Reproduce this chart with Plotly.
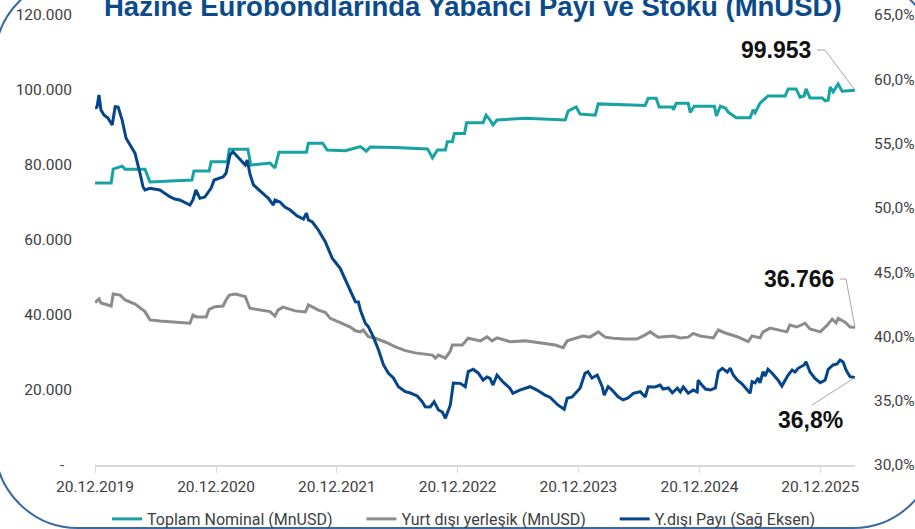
import plotly.graph_objects as go

# ---------------- data ----------------
total_dates = ["2019-12-20","2020-02-07","2020-02-13","2020-03-11","2020-03-20","2020-05-19","2020-06-03","2020-10-08","2020-10-14","2020-11-29","2020-12-05","2021-01-23","2021-01-29","2021-03-26","2021-04-04","2021-06-01","2021-06-16","2021-06-28","2021-09-19","2021-09-25","2021-11-07","2021-11-21","2022-01-15","2022-03-01","2022-03-19","2022-03-31","2022-06-15","2022-09-20","2022-10-05","2022-10-20","2022-11-13","2022-11-19","2022-12-04","2022-12-10","2023-01-10","2023-01-16","2023-03-07","2023-03-16","2023-03-28","2023-04-06","2023-04-18","2023-07-12","2023-11-10","2023-11-19","2023-12-13","2023-12-25","2024-02-09","2024-02-18","2024-07-09","2024-07-18","2024-08-11","2024-08-20","2024-09-29","2024-10-02","2024-10-11","2024-11-16","2024-11-22","2024-12-04","2025-02-03","2025-02-09","2025-02-21","2025-03-08","2025-03-17","2025-04-01","2025-04-10","2025-05-22","2025-05-31","2025-06-06","2025-06-21","2025-07-15","2025-09-05","2025-09-14","2025-10-08","2025-10-20","2025-11-01","2025-11-07","2025-11-19","2025-12-26","2026-01-04","2026-01-13","2026-01-19","2026-01-28","2026-02-12","2026-02-24","2026-04-04"]
total_values = [75200,75200,78900,79700,78900,78900,75500,76000,78400,78400,80900,80900,84200,84200,80000,80500,79200,83400,83400,85800,85800,84000,83800,84900,83700,84800,84700,84300,81900,84000,84000,86200,86200,88400,88400,91300,91300,93300,92000,90700,92000,92500,92000,94400,95500,93600,93300,96300,95900,97800,97800,95500,95500,94700,96500,96500,94000,95700,95700,93100,95700,95200,94100,93300,92600,92600,94700,93900,96500,98400,98400,100300,100300,98100,98400,100300,97900,97900,97100,97300,100800,99500,101600,99700,99953]

resident_dates = ["2019-12-20","2020-01-01","2020-01-07","2020-02-07","2020-02-13","2020-03-05","2020-03-20","2020-04-19","2020-05-19","2020-06-03","2020-07-03","2020-08-17","2020-10-02","2020-10-11","2020-10-23","2020-11-20","2020-11-29","2020-12-17","2021-01-10","2021-01-19","2021-01-29","2021-02-16","2021-03-18","2021-04-01","2021-05-02","2021-06-01","2021-06-16","2021-06-25","2021-07-10","2021-08-16","2021-09-16","2021-09-25","2021-10-25","2021-11-15","2021-11-30","2021-12-30","2022-01-30","2022-02-14","2022-03-01","2022-03-10","2022-03-25","2022-04-15","2022-05-15","2022-06-15","2022-07-15","2022-08-14","2022-09-04","2022-10-05","2022-10-14","2022-10-23","2022-11-13","2022-11-28","2022-12-04","2023-01-03","2023-01-21","2023-02-27","2023-03-19","2023-04-03","2023-04-18","2023-05-27","2023-07-12","2023-08-26","2023-10-11","2023-11-04","2023-11-16","2023-12-04","2024-01-03","2024-01-24","2024-02-18","2024-03-10","2024-04-03","2024-05-09","2024-06-14","2024-07-09","2024-07-24","2024-08-17","2024-10-02","2024-10-23","2024-11-16","2024-12-01","2024-12-22","2025-01-31","2025-02-15","2025-03-08","2025-04-13","2025-05-16","2025-05-28","2025-06-21","2025-06-30","2025-07-21","2025-08-20","2025-09-10","2025-09-19","2025-10-10","2025-11-04","2025-11-19","2025-12-20","2026-01-10","2026-01-25","2026-02-06","2026-02-12","2026-03-05","2026-03-20","2026-04-04"]
resident_values = [43300,44300,43200,42400,45600,45300,44000,42900,40900,38700,38400,38100,37800,40000,39500,39500,41500,42200,42400,44000,45300,45600,44900,41800,41300,40900,39700,41300,42100,41100,40800,42700,41300,40700,39100,37900,36800,35800,35500,36000,34200,33800,32800,31500,30500,29900,29600,29300,28500,29300,28500,30400,32000,32000,33800,33100,34200,33100,33900,32900,33100,32500,32000,31300,33100,33600,34400,34100,35500,34100,33800,33600,33600,34700,35500,34100,34400,33900,34100,35100,34400,33900,36000,35200,34200,32900,34400,33900,35500,36500,36000,35500,37300,36800,37800,36300,35500,37300,38900,37900,39100,38100,36800,36766]

share_dates = ["2019-12-20","2019-12-26","2020-01-01","2020-01-07","2020-01-16","2020-01-28","2020-02-10","2020-02-19","2020-02-28","2020-03-11","2020-03-23","2020-04-04","2020-04-19","2020-05-04","2020-05-13","2020-05-19","2020-06-03","2020-07-03","2020-08-02","2020-08-17","2020-09-01","2020-10-02","2020-10-11","2020-10-20","2020-11-01","2020-11-16","2020-11-25","2020-12-05","2020-12-14","2021-01-01","2021-01-10","2021-01-19","2021-01-31","2021-02-09","2021-02-21","2021-03-08","2021-03-18","2021-03-24","2021-04-02","2021-04-12","2021-04-27","2021-05-12","2021-05-27","2021-06-11","2021-06-16","2021-07-01","2021-07-16","2021-08-01","2021-08-22","2021-09-10","2021-09-19","2021-09-25","2021-10-07","2021-10-25","2021-11-15","2021-12-06","2021-12-30","2022-01-15","2022-01-30","2022-02-14","2022-02-23","2022-03-01","2022-03-16","2022-03-25","2022-04-09","2022-04-25","2022-05-10","2022-05-25","2022-06-09","2022-06-24","2022-07-15","2022-07-30","2022-08-20","2022-09-04","2022-09-13","2022-09-28","2022-10-10","2022-10-23","2022-11-04","2022-11-13","2022-11-28","2022-12-07","2022-12-28","2023-01-12","2023-01-21","2023-02-05","2023-02-20","2023-03-07","2023-03-19","2023-03-28","2023-04-06","2023-04-18","2023-05-06","2023-05-27","2023-06-05","2023-06-26","2023-07-27","2023-08-17","2023-09-10","2023-09-25","2023-10-19","2023-11-07","2023-11-16","2023-12-01","2023-12-25","2024-01-09","2024-01-18","2024-01-30","2024-02-15","2024-03-01","2024-03-07","2024-03-19","2024-03-31","2024-04-18","2024-05-03","2024-05-18","2024-06-03","2024-06-24","2024-07-09","2024-07-18","2024-08-08","2024-08-23","2024-09-01","2024-09-17","2024-09-29","2024-10-14","2024-10-23","2024-11-01","2024-11-16","2024-12-01","2024-12-13","2024-12-16","2024-12-22","2025-01-07","2025-01-22","2025-02-06","2025-02-15","2025-02-27","2025-03-14","2025-03-23","2025-04-01","2025-04-13","2025-04-28","2025-05-13","2025-05-22","2025-05-28","2025-06-06","2025-06-15","2025-06-21","2025-06-30","2025-07-06","2025-07-15","2025-07-27","2025-08-14","2025-08-26","2025-09-14","2025-09-26","2025-10-05","2025-10-14","2025-11-01","2025-11-07","2025-11-19","2025-12-04","2025-12-20","2026-01-04","2026-01-13","2026-01-28","2026-02-09","2026-02-18","2026-02-27","2026-03-08","2026-03-20","2026-04-04"]
share_values = [57.74,57.84,58.78,57.61,57.22,56.99,56.44,57.87,57.84,56.83,55.41,54.89,54.24,52.69,51.65,51.39,51.52,51.39,50.87,50.69,50.61,50.22,50.61,51.39,50.74,50.84,51.13,51.54,52.17,52.32,52.40,52.69,54.11,54.37,54.03,53.59,53.33,53.72,52.56,51.78,51.39,51.08,50.74,50.22,50.61,50.46,50.07,49.83,49.37,49.13,49.58,49.06,48.90,48.28,47.37,46.08,45.30,44.39,43.61,42.70,42.68,42.06,41.02,40.76,39.98,38.94,37.78,37.13,36.77,36.09,35.70,35.60,35.37,34.92,34.53,34.51,34.92,34.28,34.12,33.63,34.67,36.38,36.35,36.09,37.26,37.44,37.16,36.61,36.84,36.74,36.22,37.00,36.46,35.97,35.58,35.83,36.09,35.83,35.44,35.27,34.67,34.33,35.19,35.29,35.97,37.13,37.26,36.77,37.00,36.09,35.44,36.09,35.83,35.31,35.06,35.21,35.58,35.70,35.29,36.09,36.07,36.22,35.91,35.99,35.62,35.97,35.68,36.07,35.58,35.83,35.68,36.61,36.38,35.91,35.83,35.99,37.26,37.52,37.23,37.54,37.00,36.61,36.30,35.83,35.58,36.48,36.38,36.77,36.38,37.26,36.92,37.44,37.16,36.61,36.14,37.00,37.39,37.23,37.52,37.78,38.03,37.23,36.74,36.40,36.61,37.44,37.78,37.86,38.17,38.01,37.39,36.87,36.80]

assert len(total_dates) == len(total_values)
assert len(resident_dates) == len(resident_values)
assert len(share_dates) == len(share_values)

series_names = ["Toplam Nominal (MnUSD)", "Yurt dışı yerleşik (MnUSD)", "Y.dışı Payı (Sağ Eksen)"]
title_text = "Hazine Eurobondlarında Yabancı Payı ve Stoku (MnUSD)"

x_tick_dates = ["2019-12-20","2020-12-20","2021-12-20","2022-12-20","2023-12-20","2024-12-20","2025-12-20"]
x_tick_labels = ["20.12.2019","20.12.2020","20.12.2021","20.12.2022","20.12.2023","20.12.2024","20.12.2025"]
left_ticks = [0, 20000, 40000, 60000, 80000, 100000, 120000]
left_labels = ["-\u00a0\u00a0", "20.000", "40.000", "60.000", "80.000", "100.000", "120.000"]
right_ticks = [30, 35, 40, 45, 50, 55, 60, 65]
right_labels = ["30,0%", "35,0%", "40,0%", "45,0%", "50,0%", "55,0%", "60,0%", "65,0%"]
left_range = [0, 120000]
right_range = [30, 65]

# ---------------- styling ----------------
W, H = 915, 529
ML, MR, MT, MB = 95, 60, 15, 64
PW, PH = W - ML - MR, H - MT - MB
TEAL, GREY, NAVY = "#17a3a1", "#8c8c8c", "#05468a"
TXT = "#404040"
FONT = "Roboto"
BOLD = "Liberation Sans"
TICK_SIZE = 15.5
LEG_PAD = "\u00a0" * 6


def pxx(x):
    return (x - ML) / PW


def pxy(y):
    return (H - MB - y) / PH


fig = go.Figure()
fig.add_trace(go.Scatter(x=total_dates, y=total_values, name=series_names[0] + LEG_PAD, mode="lines",
                         line=dict(color=TEAL, width=3)))
fig.add_trace(go.Scatter(x=resident_dates, y=resident_values, name=series_names[1] + LEG_PAD, mode="lines",
                         line=dict(color=GREY, width=3)))
fig.add_trace(go.Scatter(x=share_dates, y=share_values, name=series_names[2], mode="lines",
                         line=dict(color=NAVY, width=3), yaxis="y2"))

# value labels with leader lines
last_total = total_values[-1]
last_res = resident_values[-1]
last_share = share_values[-1]
lab_total = f"{last_total:,}".replace(",", ".")
lab_res = f"{last_res:,}".replace(",", ".")
lab_share = f"{last_share:.1f}".replace(".", ",") + "%"

yt = (last_total - left_range[0]) / (left_range[1] - left_range[0])
yr = (last_res - left_range[0]) / (left_range[1] - left_range[0])
ys = (last_share - right_range[0]) / (right_range[1] - right_range[0])

annots = [
    dict(text=f"<b>{title_text}</b>", x=pxx(473), y=pxy(6.5), xref="paper", yref="paper",
         xanchor="center", yanchor="middle", showarrow=False,
         font=dict(family=BOLD, size=27.5, color="#0b4a8b")),
    dict(text=f"<b>{lab_total}</b>", x=pxx(813), y=pxy(50), xref="paper", yref="paper",
         xanchor="right", yanchor="middle", showarrow=False,
         font=dict(family=BOLD, size=23, color="#111111")),
    dict(text=f"<b>{lab_res}</b>", x=pxx(836), y=pxy(279), xref="paper", yref="paper",
         xanchor="right", yanchor="middle", showarrow=False,
         font=dict(family=BOLD, size=23, color="#111111")),
    dict(text=f"<b>{lab_share}</b>", x=pxx(845), y=pxy(420), xref="paper", yref="paper",
         xanchor="right", yanchor="middle", showarrow=False,
         font=dict(family=BOLD, size=23, color="#111111")),
]

LEAD = dict(color="#a6a6a6", width=1)
shapes = [
    dict(type="path", xref="paper", yref="paper", line=LEAD,
         path=f"M {pxx(817)},{pxy(50)} L {pxx(825)},{pxy(50)} L 1,{yt}"),
    dict(type="path", xref="paper", yref="paper", line=LEAD,
         path=f"M {pxx(840)},{pxy(279)} L {pxx(846)},{pxy(279)} L 1,{yr}"),
    dict(type="path", xref="paper", yref="paper", line=LEAD,
         path=f"M {pxx(812)},{pxy(405)} L 1,{ys}"),
]

# rounded outer frame (partly outside the canvas)
Lf, Rf, Tf, Bf, rad = -5, 936, -23, 528, 83
k = 0.5523 * rad


def P(x, y):
    return f"{pxx(x)},{pxy(y)}"


frame = (f"M {P(Lf, Tf + rad)} C {P(Lf, Tf + rad - k)} {P(Lf + rad - k, Tf)} {P(Lf + rad, Tf)} "
         f"L {P(Rf - rad, Tf)} C {P(Rf - rad + k, Tf)} {P(Rf, Tf + rad - k)} {P(Rf, Tf + rad)} "
         f"L {P(Rf, Bf - rad)} C {P(Rf, Bf - rad + k)} {P(Rf - rad + k, Bf)} {P(Rf - rad, Bf)} "
         f"L {P(Lf + rad, Bf)} C {P(Lf + rad - k, Bf)} {P(Lf, Bf - rad + k)} {P(Lf, Bf - rad)} Z")
shapes.append(dict(type="path", xref="paper", yref="paper", path=frame,
                   line=dict(color="#3b6aa0", width=2), layer="above"))

fig.update_layout(
    width=W, height=H, autosize=False,
    margin=dict(l=ML, r=MR, t=MT, b=MB, pad=0, autoexpand=False),
    paper_bgcolor="white", plot_bgcolor="white",
    font=dict(family=FONT, size=TICK_SIZE, color=TXT),
    showlegend=True,
    legend=dict(orientation="h", x=pxx(464), xanchor="center", y=pxy(519), yanchor="middle",
                font=dict(family=FONT, size=16, color=TXT), bgcolor="rgba(0,0,0,0)",
                traceorder="normal"),
    xaxis=dict(type="date", range=[total_dates[0], total_dates[-1]],
               tickmode="array", tickvals=x_tick_dates, ticktext=x_tick_labels,
               showgrid=False, zeroline=False, showline=True, linecolor="#d9d9d9", linewidth=2,
               ticks="outside", ticklen=6, tickwidth=1, tickcolor="#d9d9d9",
               tickfont=dict(family=FONT, size=TICK_SIZE, color=TXT)),
    yaxis=dict(range=left_range, tickmode="array", tickvals=left_ticks, ticktext=left_labels,
               showgrid=False, zeroline=False, showline=False, ticks="",
               ticklabelstandoff=22,
               tickfont=dict(family=FONT, size=TICK_SIZE, color=TXT)),
    yaxis2=dict(range=right_range, tickmode="array", tickvals=right_ticks, ticktext=right_labels,
                overlaying="y", side="right", showgrid=False, zeroline=False, showline=False,
                ticks="", ticklabelstandoff=18,
                tickfont=dict(family=FONT, size=TICK_SIZE, color=TXT)),
    annotations=annots,
    shapes=shapes,
)

fig.write_html("out.html")
